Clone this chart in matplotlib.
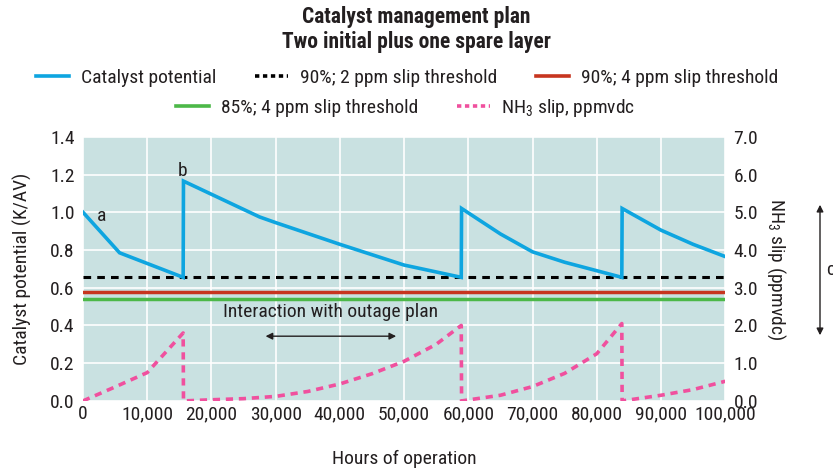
import numpy as np
import matplotlib
matplotlib.use("Agg")
import matplotlib.pyplot as plt
from matplotlib.lines import Line2D
from matplotlib.patches import FancyArrowPatch

plt.rcParams['font.family'] = ['Roboto Condensed', 'DejaVu Sans']
plt.rcParams['mathtext.fontset'] = 'custom'
plt.rcParams['mathtext.rm'] = 'Roboto Condensed'

# catalyst potential (K/AV), left axis
cat_hours = [0, 5700, 15600, 15650, 27500, 30000, 40000, 50000, 58900,
             58950, 65000, 70000, 75000, 80000, 83900, 83950, 90000, 95000, 100000]
cat_pot = [1.0, 0.785, 0.655, 1.165, 0.975, 0.945, 0.83, 0.72, 0.655,
           1.02, 0.885, 0.79, 0.735, 0.69, 0.655, 1.02, 0.905, 0.83, 0.765]

# NH3 slip (ppmvdc), right axis
slip_hours = [0, 5000, 10000, 15600, 15650, 20000, 25000, 30000, 35000, 40000,
              45000, 50000, 55000, 58900, 58950, 65000, 70000, 75000, 80000,
              83900, 83950, 90000, 95000, 100000]
slip_ppm = [0.0, 0.37, 0.75, 1.8, 0.0, 0.03, 0.06, 0.12, 0.25, 0.45,
            0.72, 1.05, 1.5, 2.0, 0.0, 0.15, 0.38, 0.73, 1.25,
            2.05, 0.0, 0.15, 0.3, 0.52]

thr_90_2 = 0.655
thr_90_4 = 0.578
thr_85_4 = 0.54

blue = '#0ea5e0'
red = '#c7351f'
green = '#4cb848'
pink = '#f0509e'
bg = '#c9e1e1'
txt = '#231f20'
fs = 14

fig = plt.figure(figsize=(8.33, 4.70), dpi=100)
ax = fig.add_axes([0.0996, 0.147, 0.771, 0.562])
ax.set_facecolor(bg)
for s in ax.spines.values():
    s.set_visible(False)

ax.set_xlim(0, 100000)
ax.set_ylim(0, 1.4)
ax.set_xticks(np.arange(0, 100001, 10000))
ax.set_xticklabels(['0'] + [f'{v:,}' for v in range(10000, 100001, 10000)])
ax.set_yticks(np.arange(0, 1.41, 0.2))
ax.set_yticklabels([f'{v:.1f}' for v in np.arange(0, 1.41, 0.2)])
ax.grid(True, color='white', lw=1.2)
ax.set_axisbelow(True)
ax.tick_params(length=0, labelsize=fs, colors=txt, pad=6)
ax.tick_params(axis='x', pad=3)

ax.axhline(thr_90_4, color=red, lw=2.5)
ax.axhline(thr_85_4, color=green, lw=2.5)
ax.axhline(thr_90_2, color='black', lw=2.2, ls=(0, (2.5, 2)))
ax.plot(cat_hours, cat_pot, color=blue, lw=2.6, solid_joinstyle='miter')

ax2 = ax.twinx()
ax2.set_ylim(0, 7)
ax2.set_yticks(np.arange(0, 7.1, 1))
ax2.set_yticklabels([f'{v:.1f}' for v in np.arange(0, 7.1, 1)])
ax2.tick_params(length=0, labelsize=fs, colors=txt, pad=6)
for s in ax2.spines.values():
    s.set_visible(False)
ax2.plot(slip_hours, slip_ppm, color=pink, lw=2.6, ls=(0, (2, 1.6)))

ax.set_xlabel('Hours of operation', fontsize=fs, color=txt, labelpad=19)
ax.set_ylabel('Catalyst potential (K/AV)', fontsize=fs, color=txt, labelpad=13)
ax2.set_ylabel('NH$_3$ slip (ppmvdc)', fontsize=fs, color=txt, rotation=270,
               labelpad=21)

ax.text(2200, 0.955, 'a', fontsize=fs, color=txt)
ax.text(14700, 1.19, 'b', fontsize=fs, color=txt)
ax.text(38500, 0.425, 'Interaction with outage plan', fontsize=fs, color=txt,
        ha='center', va='bottom')
ax.annotate('', xy=(28000, 0.343), xytext=(49200, 0.343),
            arrowprops=dict(arrowstyle='<|-|>', color=txt, lw=1, mutation_scale=10))

fig.patches.append(FancyArrowPatch(
    (820 / 833, 1 - 202 / 470), (820 / 833, 1 - 338 / 470),
    transform=fig.transFigure, arrowstyle='<|-|>', color=txt, lw=1,
    mutation_scale=10))
fig.text(826 / 833, 1 - 270 / 470, 'c', fontsize=fs, color=txt,
         va='center', ha='left')

fig.text(0.5, 1 - 17 / 470, 'Catalyst management plan', ha='center',
         va='center', fontsize=15.5, fontweight='bold', color=txt)
fig.text(0.5, 1 - 42 / 470, 'Two initial plus one spare layer', ha='center',
         va='center', fontsize=15.5, fontweight='bold', color=txt)

row1 = [Line2D([], [], color=blue, lw=2.6),
        Line2D([], [], color='black', lw=2.6, ls=(0, (1.2, 1))),
        Line2D([], [], color=red, lw=2.6)]
row1_lab = ['Catalyst potential', '90%; 2 ppm slip threshold',
            '90%; 4 ppm slip threshold']
row2 = [Line2D([], [], color=green, lw=2.6),
        Line2D([], [], color=pink, lw=2.6, ls=(0, (1.2, 1)))]
row2_lab = ['85%; 4 ppm slip threshold', 'NH$_3$ slip, ppmvdc']
common = dict(frameon=False, fontsize=fs, handlelength=1.7, handletextpad=0.6,
              columnspacing=2.0, labelcolor=txt, borderpad=0)
fig.legend(row1, row1_lab, ncol=3, loc='center', bbox_to_anchor=(0.489, 1 - 78 / 470),
           **common)
fig.legend(row2, row2_lab, ncol=2, loc='center', bbox_to_anchor=(0.487, 1 - 108 / 470),
           **common)

fig.savefig('out.png', dpi=100)
